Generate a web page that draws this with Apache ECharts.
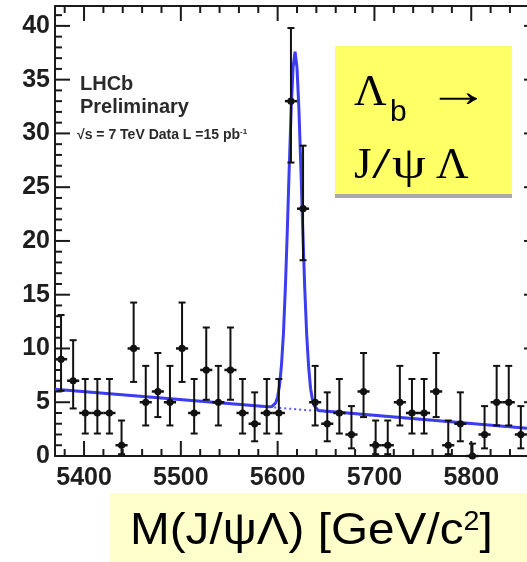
<!DOCTYPE html>
<html>
<head>
<meta charset="utf-8">
<script src="https://cdn.jsdelivr.net/npm/echarts@6/dist/echarts.min.js"></script>
<style>
  html, body { margin: 0; padding: 0; background: #ffffff; }
  #chart { width: 527px; height: 562px; }
</style>
</head>
<body>
<div id="chart"></div>
<script>
// J/psi Lambda invariant-mass spectrum, 12.5 MeV bins from 5370 to 5870 MeV
const massMin = 5370;
const massMax = 5870;
const binWidth = 12.5;

const binCenters = [
  5376.25, 5388.75, 5401.25, 5413.75, 5426.25, 5438.75, 5451.25, 5463.75,
  5476.25, 5488.75, 5501.25, 5513.75, 5526.25, 5538.75, 5551.25, 5563.75,
  5576.25, 5588.75, 5601.25, 5613.75, 5626.25, 5638.75, 5651.25, 5663.75,
  5676.25, 5688.75, 5701.25, 5713.75, 5726.25, 5738.75, 5751.25, 5763.75,
  5776.25, 5788.75, 5801.25, 5813.75, 5826.25, 5838.75, 5851.25
];
const counts = [
  9, 7, 4, 4, 4, 1, 10, 5,
  6, 5, 10, 4, 8, 5, 8, 4,
  3, 4, 4, 33, 23, 5, 3, 4,
  2, 6, 1, 1, 5, 4, 4, 6,
  1, 3, 0, 2, 5, 5, 2
];
// asymmetric (Poisson) uncertainties below / above each count
const errLow = [
  2.94, 2.58, 1.91, 1.91, 1.91, 0.83, 3.11, 2.16,
  2.38, 2.16, 3.11, 1.91, 2.77, 2.16, 2.77, 1.91,
  1.63, 1.91, 1.91, 5.71, 4.79, 2.16, 1.63, 1.91,
  1.29, 2.38, 0.83, 0.83, 2.16, 1.91, 1.91, 2.38,
  0.83, 1.63, 0, 1.29, 2.16, 2.16, 1.29
];
const errHigh = [
  4.11, 3.77, 3.16, 3.16, 3.16, 2.30, 4.27, 3.38,
  3.58, 3.38, 4.27, 3.16, 3.95, 3.38, 3.95, 3.16,
  2.92, 3.16, 3.16, 6.80, 5.86, 3.38, 2.92, 3.16,
  2.64, 3.58, 2.30, 2.30, 3.38, 3.16, 3.16, 3.58,
  2.30, 2.92, 1.15, 2.64, 3.38, 3.38, 2.64
];

// tick labels (major ticks) and minor tick positions
const xTickLabels = [5400, 5500, 5600, 5700, 5800];
const yTickLabels = [0, 5, 10, 15, 20, 25, 30, 35, 40];
const yMax = 41.85;
const xMinorTicks = [];
for (let m = 5380; m < massMax; m += 20) if (m % 100 !== 0) xMinorTicks.push(m);
const yMinorTicks = [];
for (let v = 1; v <= 41; v += 1) if (v % 5 !== 0) yMinorTicks.push(v);

// fitted model: signal peak on a linear background (entries per bin)
const fitMass = [
  5370, 5590, 5594, 5598, 5600, 5602, 5604, 5606, 5608, 5610,
  5612, 5614, 5616, 5618, 5620, 5622, 5624, 5626, 5628, 5630,
  5632, 5634, 5636, 5638, 5642, 5870
];
const fitTotal = [
  6.20, 4.58, 4.60, 4.94, 5.50, 6.60, 8.50, 11.40, 15.70, 21.00,
  26.90, 32.30, 36.20, 37.60, 36.10, 32.20, 26.80, 20.90, 15.60, 11.30,
  8.30, 6.30, 5.20, 4.64, 4.24, 2.48
];
// background component alone
const bkgMass = [5370, 5870];
const bkgLevel = [6.20, 2.48];

const frameColor = '#1a1a1a';
const majorLen = 15, minorLen = 7;
const labelFont = { fontFamily: 'Liberation Sans', fontWeight: 'bold', fontSize: 25, color: '#1e1e1e' };

function xAxisDef(position) {
  return {
    type: 'value', min: massMin, max: massMax, position: position, splitNumber: 5,
    axisLine: { show: true, onZero: false, lineStyle: { color: frameColor, width: 2 } },
    axisTick: { show: false }, minorTick: { show: false },
    axisLabel: position === 'bottom'
      ? Object.assign({ show: true, margin: 10, customValues: xTickLabels, formatter: v => String(v) }, labelFont)
      : { show: false },
    splitLine: { show: false }
  };
}
function yAxisDef(position) {
  return {
    type: 'value', min: 0, max: yMax, position: position, splitNumber: 8,
    axisLine: { show: true, onZero: false, lineStyle: { color: frameColor, width: 2 } },
    axisTick: { show: false }, minorTick: { show: false },
    axisLabel: position === 'left'
      ? Object.assign({ show: true, margin: 5, customValues: yTickLabels, formatter: v => String(v) }, labelFont)
      : { show: false },
    splitLine: { show: false }
  };
}

const tickStyle = { stroke: frameColor, lineWidth: 2 };

// inward ticks on the bottom and top frame edges
function renderXTick(params, api) {
  const v = api.value(0), len = api.value(2);
  const b = api.coord([v, 0]);
  const t = api.coord([v, yMax]);
  return { type: 'group', children: [
    { type: 'line', shape: { x1: b[0], y1: b[1], x2: b[0], y2: b[1] - len }, style: tickStyle },
    { type: 'line', shape: { x1: t[0], y1: t[1], x2: t[0], y2: t[1] + len }, style: tickStyle }
  ] };
}
// inward ticks on the left and right frame edges
function renderYTick(params, api) {
  const v = api.value(1), len = api.value(2);
  const l = api.coord([massMin, v]);
  const r = api.coord([massMax, v]);
  return { type: 'group', children: [
    { type: 'line', shape: { x1: l[0], y1: l[1], x2: l[0] + len, y2: l[1] }, style: tickStyle },
    { type: 'line', shape: { x1: r[0], y1: r[1], x2: r[0] - len, y2: r[1] }, style: tickStyle }
  ] };
}

function renderPoint(params, api) {
  const x = api.value(0), y = api.value(1), lo = api.value(2), hi = api.value(3);
  const p = api.coord([x, y]);
  const pTop = api.coord([x, y + hi]);
  const pBot = api.coord([x, y - lo]);
  const pL = api.coord([x - binWidth / 2, y]);
  const pR = api.coord([x + binWidth / 2, y]);
  const cap = 3.5;
  const st = { stroke: '#111111', lineWidth: 2 };
  const kids = [
    { type: 'line', shape: { x1: p[0], y1: pTop[1], x2: p[0], y2: pBot[1] }, style: st },
    { type: 'line', shape: { x1: p[0] - cap, y1: pTop[1], x2: p[0] + cap, y2: pTop[1] }, style: st },
    { type: 'line', shape: { x1: pL[0], y1: p[1], x2: pR[0], y2: p[1] }, style: { stroke: '#111111', lineWidth: 2.5 } },
    { type: 'circle', shape: { cx: p[0], cy: p[1], r: 3.6 }, style: { fill: '#111111' } }
  ];
  if (lo > 0) {
    kids.push({ type: 'line', shape: { x1: p[0] - cap, y1: pBot[1], x2: p[0] + cap, y2: pBot[1] }, style: st });
  }
  return { type: 'group', children: kids };
}

const xTickData = xTickLabels.map(v => [v, 0, majorLen]).concat(xMinorTicks.map(v => [v, 0, minorLen]));
const yTickData = yTickLabels.map(v => [massMin, v, majorLen]).concat(yMinorTicks.map(v => [massMin, v, minorLen]));

const chart = echarts.init(document.getElementById('chart'), null, { renderer: 'canvas' });

chart.setOption({
  animation: false,
  backgroundColor: '#ffffff',
  grid: { left: 55, top: 6, width: 484, height: 450, containLabel: false, outerBoundsMode: 'none' },
  xAxis: [xAxisDef('bottom'), xAxisDef('top')],
  yAxis: [yAxisDef('left'), yAxisDef('right')],
  series: [
    {
      name: 'x ticks', type: 'custom', xAxisIndex: 0, yAxisIndex: 0,
      data: xTickData, encode: { x: 0, y: 1 }, renderItem: renderXTick, silent: true, z: 5
    },
    {
      name: 'y ticks', type: 'custom', xAxisIndex: 0, yAxisIndex: 0,
      data: yTickData, encode: { x: 0, y: 1 }, renderItem: renderYTick, silent: true, z: 5
    },
    {
      name: 'background', type: 'line', xAxisIndex: 0, yAxisIndex: 0,
      data: bkgMass.map((m, i) => [m, bkgLevel[i]]),
      showSymbol: false, silent: true, z: 2,
      lineStyle: { color: '#5a5af0', width: 2, type: [2, 3] }
    },
    {
      name: 'fit', type: 'line', xAxisIndex: 0, yAxisIndex: 0,
      data: fitMass.map((m, i) => [m, fitTotal[i]]),
      showSymbol: false, silent: true, z: 3,
      lineStyle: { color: '#3c3cf2', width: 3 }
    },
    {
      name: 'data', type: 'custom', xAxisIndex: 0, yAxisIndex: 0,
      data: binCenters.map((m, i) => [m, counts[i], errLow[i], errHigh[i]]),
      encode: { x: 0, y: 1 },
      renderItem: renderPoint, silent: true, z: 4
    }
  ],
  graphic: [
    // experiment / dataset labels
    { type: 'text', x: 80, y: 84, z: 10, style: { text: 'LHCb', align: 'left', verticalAlign: 'middle',
        font: 'bold 20px "Liberation Sans"', fill: '#2a2a2a' } },
    { type: 'text', x: 80, y: 107, z: 10, style: { text: 'Preliminary', align: 'left', verticalAlign: 'middle',
        font: 'bold 20px "Liberation Sans"', fill: '#2a2a2a' } },
    { type: 'text', x: 77, y: 135, z: 10, style: { text: '√s = 7 TeV Data L =15 pb{sup|-1}', align: 'left', verticalAlign: 'middle',
        font: 'bold 14px "Liberation Sans"', fill: '#2a2a2a',
        rich: { sup: { font: 'bold 8px "Liberation Sans"', fill: '#2a2a2a', verticalAlign: 'top', padding: [0, 0, 6, 0] } } } },
    // decay box
    { type: 'rect', z: 10, shape: { x: 335, y: 46, width: 177, height: 148 }, style: { fill: '#ffff66' } },
    { type: 'rect', z: 10, shape: { x: 335, y: 194, width: 177, height: 4 }, style: { fill: '#a8a8a8' } },
    { type: 'text', x: 354, y: 93, z: 11, style: { text: 'Λ', align: 'left', verticalAlign: 'middle',
        font: '45px "Liberation Serif"', fill: '#000000' } },
    { type: 'text', x: 390, y: 113, z: 11, style: { text: 'b', align: 'left', verticalAlign: 'middle',
        font: '30px "Liberation Sans"', fill: '#000000' } },
    { type: 'text', x: 427, y: 94, z: 11, scaleX: 1.4, originX: 0, style: { text: '→', align: 'left', verticalAlign: 'middle',
        font: '45px "Liberation Serif"', fill: '#000000' } },
    { type: 'text', x: 354, y: 166, z: 11, style: { text: 'J', align: 'left', verticalAlign: 'middle',
        font: '45px "Liberation Serif"', fill: '#000000' } },
    { type: 'text', x: 372, y: 166, z: 11, scaleX: 1.5, originX: 0, style: { text: '/', align: 'left', verticalAlign: 'middle',
        font: '45px "Liberation Serif"', fill: '#000000' } },
    { type: 'text', x: 392, y: 166, z: 11, scaleX: 1.2, originX: 0, style: { text: 'ψ', align: 'left', verticalAlign: 'middle',
        font: '45px "Liberation Serif"', fill: '#000000' } },
    { type: 'text', x: 436, y: 166, z: 11, style: { text: 'Λ', align: 'left', verticalAlign: 'middle',
        font: '45px "Liberation Serif"', fill: '#000000' } },
    // axis title
    { type: 'rect', z: 10, shape: { x: 110, y: 493, width: 420, height: 72 }, style: { fill: '#ffffcc' } },
    { type: 'text', x: 130, y: 532, z: 11, scaleX: 1.06, originX: 0, style: { text: 'M(J/ψΛ) [GeV/c{sup|2}]', align: 'left', verticalAlign: 'middle',
        font: '45px "Liberation Sans"', fill: '#000000',
        rich: { sup: { font: '27px "Liberation Sans"', fill: '#000000', verticalAlign: 'top', padding: [0, 0, 14, 0] } } } }
  ]
});
</script>
</body>
</html>
